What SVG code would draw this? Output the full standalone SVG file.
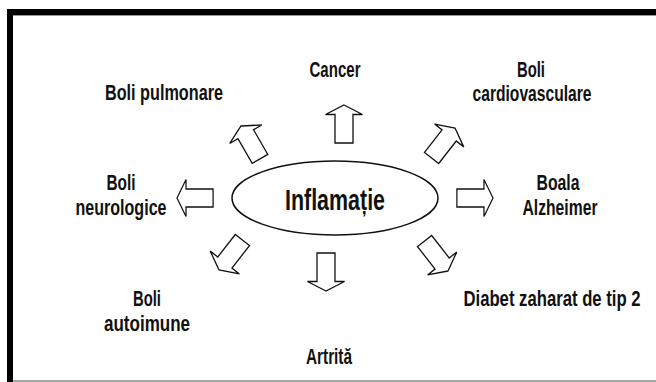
<svg xmlns="http://www.w3.org/2000/svg" width="656" height="382" viewBox="0 0 656 382">
<style>
.lbl{font-family:"Liberation Sans",Arial,sans-serif;font-weight:bold;font-size:22px;fill:#111;text-anchor:middle}
.big{font-size:30px}
.arr{fill:#fff;stroke:#111;stroke-width:1.3;stroke-linejoin:miter}
</style>
<defs>
<path id="ar" d="M0,0 L18.5,9.5 L9,9.5 L9,38 L-9,38 L-9,9.5 L-18.5,9.5 Z"/>
</defs>
<rect x="0" y="0" width="656" height="382" fill="#fff"/>
<g id="frame">
<rect x="7" y="9" width="649" height="6" fill="#000"/>
<line x1="13" y1="15.5" x2="656" y2="15.5" stroke="#999" stroke-width="1"/>
<rect x="7" y="9" width="6" height="373" fill="#000"/>
<line x1="13" y1="381" x2="656" y2="381" stroke="#888" stroke-width="1.5"/>
</g>
<g id="center">
<ellipse cx="335" cy="198" rx="103" ry="37" fill="#fff" stroke="#111" stroke-width="1.5"/>
<text class="lbl big" x="335" y="210" textLength="100" lengthAdjust="spacingAndGlyphs">Inflamație</text>
</g>
<g id="connectors">
<use href="#ar" class="arr" transform="translate(344,105)"/>
<use href="#ar" class="arr" transform="translate(326,291) rotate(180)"/>
<use href="#ar" class="arr" transform="translate(177,198) rotate(-90) scale(1,0.95)"/>
<use href="#ar" class="arr" transform="translate(493,198) rotate(90) scale(1,0.95)"/>
<use href="#ar" class="arr" transform="translate(241,126) rotate(-30)"/>
<use href="#ar" class="arr" transform="translate(455,128) rotate(38)"/>
<use href="#ar" class="arr" transform="translate(219,270) rotate(218)"/>
<use href="#ar" class="arr" transform="translate(448,271) rotate(142)"/>
</g>
<g id="n-pulmonare"><text class="lbl" x="164" y="100" textLength="118" lengthAdjust="spacingAndGlyphs">Boli pulmonare</text></g>
<g id="n-cancer"><text class="lbl" x="335" y="77" textLength="51" lengthAdjust="spacingAndGlyphs">Cancer</text></g>
<g id="n-cardio"><text class="lbl" x="531" y="77" textLength="28" lengthAdjust="spacingAndGlyphs">Boli</text><text class="lbl" x="532" y="101" textLength="119" lengthAdjust="spacingAndGlyphs">cardiovasculare</text></g>
<g id="n-neuro"><text class="lbl" x="121" y="190" textLength="29" lengthAdjust="spacingAndGlyphs">Boli</text><text class="lbl" x="121" y="215" textLength="91" lengthAdjust="spacingAndGlyphs">neurologice</text></g>
<g id="n-alzheimer"><text class="lbl" x="558" y="190" textLength="43" lengthAdjust="spacingAndGlyphs">Boala</text><text class="lbl" x="560" y="215" textLength="75" lengthAdjust="spacingAndGlyphs">Alzheimer</text></g>
<g id="n-autoimune"><text class="lbl" x="147" y="306" textLength="28" lengthAdjust="spacingAndGlyphs">Boli</text><text class="lbl" x="147" y="331" textLength="86" lengthAdjust="spacingAndGlyphs">autoimune</text></g>
<g id="n-artrita"><text class="lbl" x="329" y="364" textLength="46" lengthAdjust="spacingAndGlyphs">Artrită</text></g>
<g id="n-diabet"><text class="lbl" transform="translate(552,306) scale(0.76,1)" x="0" y="0" textLength="233" lengthAdjust="spacingAndGlyphs">Diabet zaharat de tip 2</text></g>
</svg>
